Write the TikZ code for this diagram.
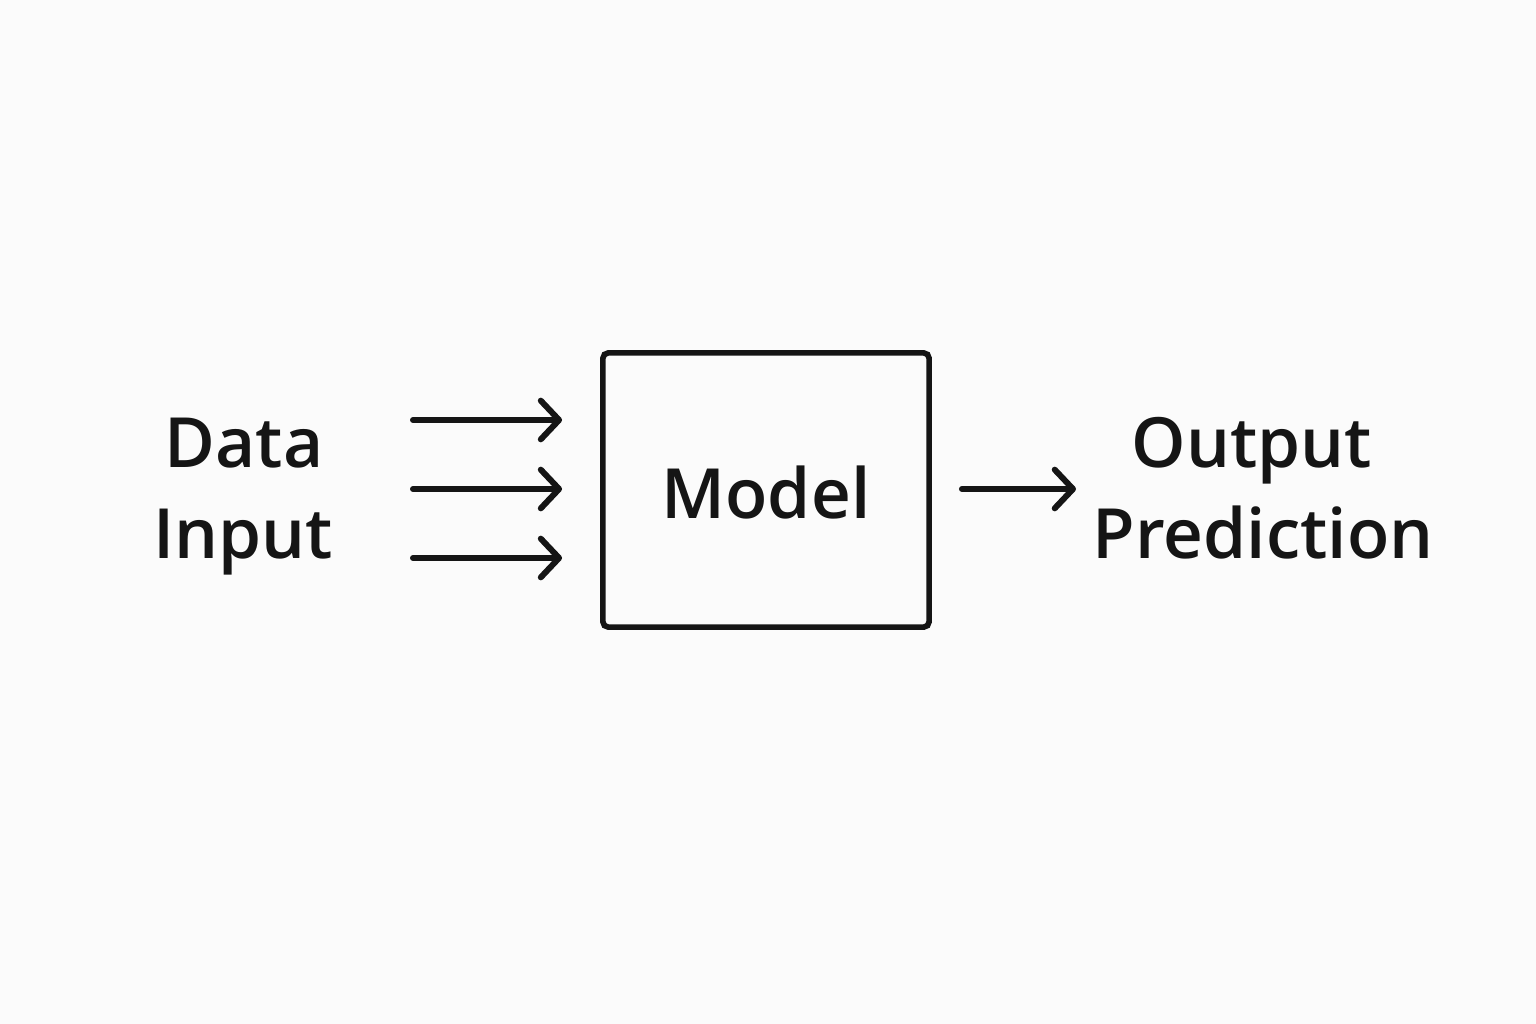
\documentclass[tikz,border=0pt]{standalone}
\usepackage{fontspec}
\setmainfont{Open Sans}
\newfontfamily\lblfont{Open Sans Semibold}
\usetikzlibrary{arrows.meta}

\definecolor{ink}{HTML}{151515}
\definecolor{paper}{HTML}{FBFBFB}

\begin{document}
\begin{tikzpicture}[x=0.01cm,y=-0.01cm,
    line width=1.7pt, draw=ink, text=ink,
    arr/.style={-{Straight Barb[length=5.2pt,width=11pt,line cap=round,line join=round]},line cap=round},
    lbl/.style={font=\fontsize{19.7}{24}\lblfont, inner sep=0pt, anchor=base}]
    \fill[paper](0,0)rectangle(1536,1024);
    \useasboundingbox(0,0)rectangle(1536,1024);

    \node[draw, line width=1.6pt, rounded corners=1.5pt, minimum width=3.26cm, minimum height=2.74cm](model)at(766,490){};
    \node[lbl](modeltxt)at(766,518){Model};

    \node[lbl](data)at(244,467){Data};
    \node[lbl](input)at(243,558){Input};
    \node[lbl](output)at(1252,467){Output};
    \node[lbl](prediction)at(1263,558){Prediction};

    \coordinate(in1)at(413,420);
    \coordinate(in2)at(413,489);
    \coordinate(in3)at(413,558);
    \coordinate(out)at(1076,489);

    \foreach \i in {in1,in2,in3}
        \draw[arr](\i)--(\i -| model.west)[shorten >=0.38cm];
    \draw[arr](out -| model.east)--(out)[shorten <=0.3cm];
\end{tikzpicture}
\end{document}
